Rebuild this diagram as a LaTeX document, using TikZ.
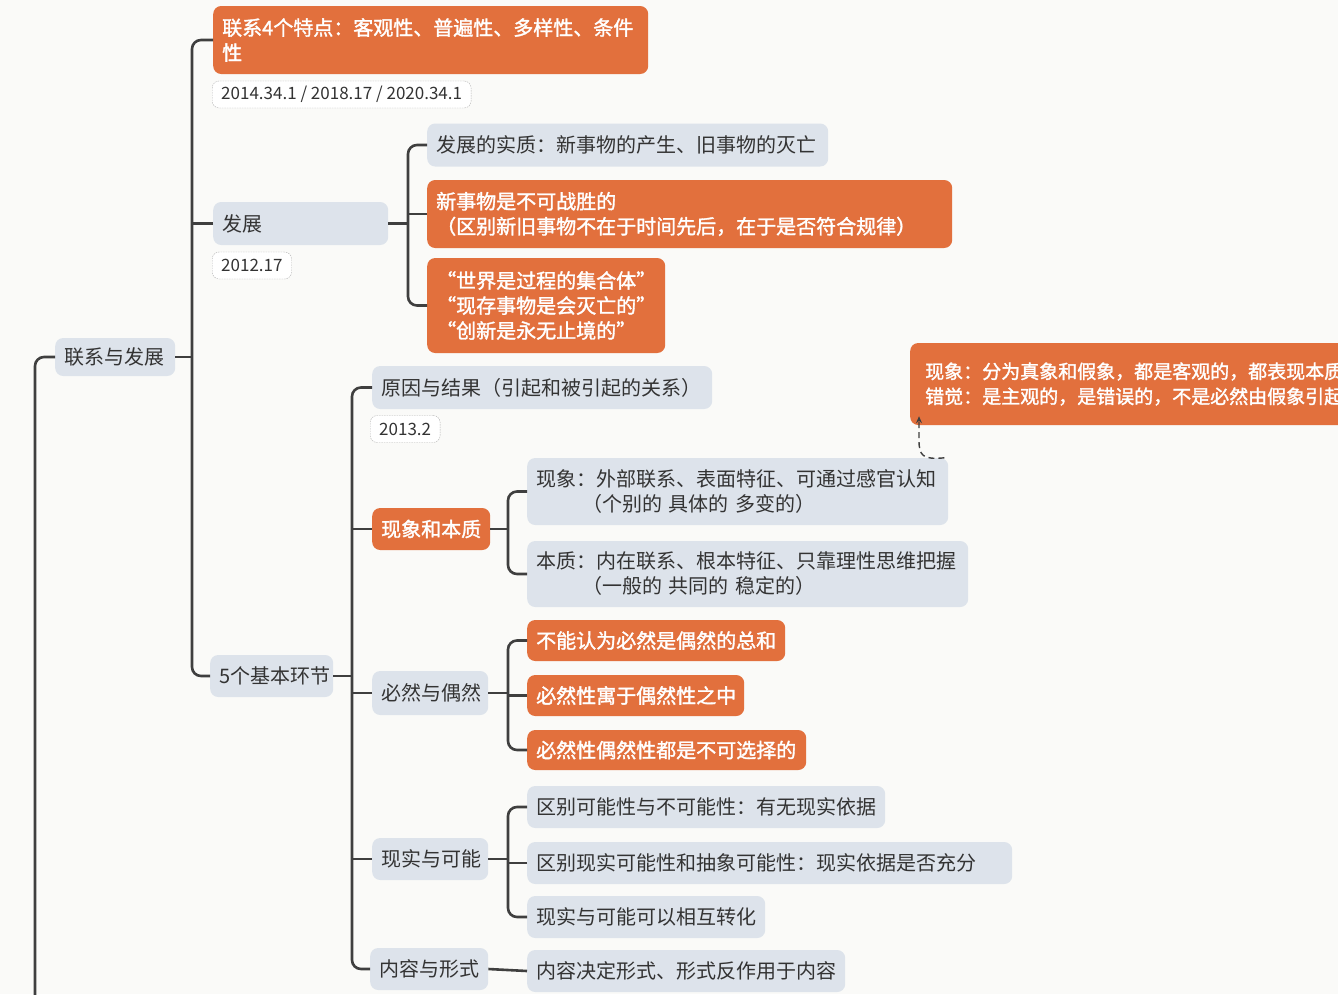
\documentclass[tikz,border=0pt]{standalone}
\usepackage{fontspec}
\setmainfont{Noto Sans CJK SC}
\newfontfamily\obfont[RawFeature={embolden=1.6}]{Noto Sans CJK SC}
\usetikzlibrary{arrows.meta}
\definecolor{org}{HTML}{E2703D}
\definecolor{gbg}{HTML}{DDE3EB}
\definecolor{ln}{HTML}{3F3F3F}
\definecolor{txt}{HTML}{333333}
\definecolor{bgc}{HTML}{FAFAF8}
\begin{document}
\begin{tikzpicture}[x=1pt,y=-1pt,
  base/.style={rounded corners=8pt, inner xsep=9pt, inner ysep=0pt, anchor=west, align=left, font=\fontsize{20}{25}\selectfont},
  gbox/.style={base, fill=gbg, text=txt},
  obox/.style={base, fill=org, text=white, font=\obfont\fontsize{20}{25}\selectfont},
  tagbox/.style={rounded corners=7pt, draw=gray!60, dash pattern=on 1.5pt off 1pt, fill=white, inner xsep=9pt, inner ysep=0pt, minimum height=27pt, anchor=west, font=\fontsize{17}{19}\selectfont, text=txt},
  conn/.style={draw=ln, line width=2.6pt, rounded corners=9pt},
]
\useasboundingbox (0,0) rectangle (1338,994);
\clip (0,0) rectangle (1338,994);
\fill[bgc] (0,0) rectangle (1338,994);

% level 0/1
\node[gbox, text width=102pt, minimum height=38pt] (root) at (55,357) {联系与发展};
\node[obox, text width=417pt, minimum height=68pt] (lx) at (213,40) {联系4个特点：客观性、普遍性、多样性、条件\\性};
\node[tagbox] (t1) at (212,94.5) {2014.34.1 / 2018.17 / 2020.34.1};
\node[gbox, text width=157pt, minimum height=43pt] (fz) at (213,223.5) {发展};
\node[tagbox] (t2) at (212,265.5) {2012.17};
\node[gbox, text width=105pt, minimum height=42pt] (five) at (210,676) {5个基本环节};

% 发展 children
\node[gbox, text width=383pt, minimum height=43pt] (s1) at (427,145) {发展的实质：新事物的产生、旧事物的灭亡};
\node[obox, text width=507pt, minimum height=68pt] (s2) at (427,214) {新事物是不可战胜的\\（区别新旧事物不在于时间先后，在于是否符合规律）};
\node[obox, text width=220pt, minimum height=95pt] (s3) at (427,305.5) {“世界是过程的集合体”\\“现存事物是会灭亡的”\\“创新是永无止境的”};

% 5个基本环节 children
\node[gbox, text width=322pt, minimum height=43pt] (yy) at (372,387.5) {原因与结果（引起和被引起的关系）};
\node[tagbox] (t3) at (370,429) {2013.2};
\node[obox, text width=100pt, minimum height=42pt] (xb) at (372,529) {现象和本质};
\node[gbox, text width=98pt, minimum height=44pt] (by) at (372,693) {必然与偶然};
\node[gbox, text width=98pt, minimum height=42pt] (xs) at (372,859) {现实与可能};
\node[gbox, text width=100pt, minimum height=42pt] (nr) at (370,969) {内容与形式};

% 现象和本质 children
\node[gbox, text width=403pt, minimum height=67pt] (xx) at (527,491.5) {现象：外部联系、表面特征、可通过感官认知\\\hspace*{46pt}（个别的 具体的 多变的）};
\node[gbox, text width=423pt, minimum height=66pt] (bz) at (527,574) {本质：内在联系、根本特征、只靠理性思维把握\\\hspace*{46pt}（一般的 共同的 稳定的）};

% 必然与偶然 children
\node[obox, text width=240pt, minimum height=41pt] (b1) at (527,640.5) {不能认为必然是偶然的总和};
\node[obox, text width=199pt, minimum height=41pt] (b2) at (527,695.5) {必然性寓于偶然性之中};
\node[obox, text width=261pt, minimum height=40pt] (b3) at (527,750) {必然性偶然性都是不可选择的};

% 现实与可能 children
\node[gbox, text width=340pt, minimum height=42pt] (k1) at (527,807) {区别可能性与不可能性：有无现实依据};
\node[gbox, text width=467pt, minimum height=42pt] (k2) at (527,863) {区别现实可能性和抽象可能性：现实依据是否充分};
\node[gbox, text width=220pt, minimum height=42pt] (k3) at (527,917) {现实与可能可以相互转化};

% 内容与形式 child
\node[gbox, text width=300pt, minimum height=42pt] (n1) at (527,971) {内容决定形式、形式反作用于内容};

% callout
\node[obox, inner xsep=15pt, text width=470pt, minimum height=82pt, font=\obfont\fontsize{19}{25}\selectfont] (call) at (910,384) {现象：分为真象和假象，都是客观的，都表现本质\\错觉：是主观的，是错误的，不是必然由假象引起};

% connectors
\coordinate (tb) at (35,1010);
\draw[conn] (tb) |- (root.west);

\coordinate (j1) at (192,357);
\draw[conn] (root.east) -- (j1);
\draw[conn] (lx.west) -| (j1) |- (five.west);
\draw[conn] (fz.west) -- (fz.west -| j1);

\coordinate (j2) at (408,223.5);
\draw[conn] (fz.east) -- (j2);
\draw[conn] (s1.west) -| (j2) |- (s3.west);
\draw[conn] (s2.west) -- (s2.west -| j2);

\coordinate (j3) at (352,676);
\draw[conn] (five.east) -- (j3);
\draw[conn] (yy.west) -| (j3) |- (nr.west);
\draw[conn] (xb.west) -- (xb.west -| j3);
\draw[conn] (by.west) -- (by.west -| j3);
\draw[conn] (xs.west) -- (xs.west -| j3);

\coordinate (j4) at (508,529);
\draw[conn] (xb.east) -- (j4);
\draw[conn] (xx.west) -| (j4) |- (bz.west);

\coordinate (j5) at (508,693);
\draw[conn] (by.east) -- (j5);
\draw[conn] (b1.west) -| (j5) |- (b3.west);
\draw[conn] (b2.west) -- (b2.west -| j5);

\coordinate (j6) at (508,859);
\draw[conn] (xs.east) -- (j6);
\draw[conn] (k1.west) -| (j6) |- (k3.west);
\draw[conn] (k2.west) -- (k2.west -| j6);

\draw[conn, rounded corners=0pt] (nr.east) -- (n1.west);

% dashed link to callout
\draw[draw=ln, line width=1.4pt, dash pattern=on 6pt off 4pt, -{Stealth[length=7pt,width=6pt]}]
  ([xshift=-4pt]xx.north east) .. controls (922,460) and (919,455) .. (919,440) -- ([xshift=9pt,yshift=9pt]call.south west);
\end{tikzpicture}
\end{document}
